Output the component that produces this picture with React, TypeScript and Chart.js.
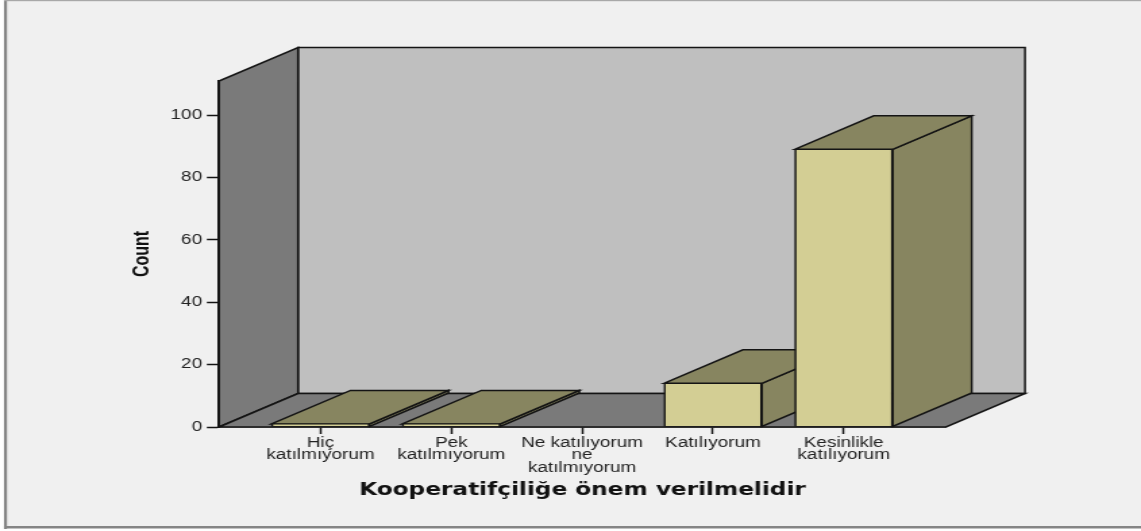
import React, { useEffect, useRef } from "react";
import { Chart, registerables } from "chart.js";

Chart.register(...registerables);

const categories = [
  ["Hiç", "katılmıyorum"],
  ["Pek", "katılmıyorum"],
  ["Ne katılıyorum", "ne", "katılmıyorum"],
  ["Katılıyorum"],
  ["Kesinlikle", "katılıyorum"],
];
const positions = [1, 2, 3, 4, 5];
const counts = [1, 1, 0, 14, 89];
const yTicks = [0, 20, 40, 60, 80, 100];
const xTitle = "Kooperatifçiliğe önem verilmelidir";
const yTitle = "Count";

const SX = 1141 / 845;
const CW = 845;
const CH = 531;
const px = (v: number) => v / SX;
const DX = px(79);
const DY = 33.5;
const LINE = "#141414";

const poly = (ctx: CanvasRenderingContext2D, pts: number[][], fill: string) => {
  ctx.beginPath();
  pts.forEach((p, i) => (i ? ctx.lineTo(p[0], p[1]) : ctx.moveTo(p[0], p[1])));
  ctx.closePath();
  ctx.fillStyle = fill;
  ctx.fill();
  ctx.strokeStyle = LINE;
  ctx.lineWidth = 1.5;
  ctx.stroke();
};

const scene = {
  id: "scene",
  beforeDraw(chart: any) {
    const ctx = chart.ctx;
    ctx.save();
    ctx.fillStyle = "#ffffff";
    ctx.fillRect(0, 0, CW, CH);
    ctx.fillStyle = "#f0f0f0";
    ctx.fillRect(px(5), 0, CW, 527);
    ctx.fillStyle = "#858585";
    ctx.fillRect(px(4), 0, px(3), 529);
    ctx.fillRect(px(4), 526, CW, 2.5);
    ctx.fillStyle = "#a8a8a8";
    ctx.fillRect(px(4), 0, CW, 1.2);
    ctx.restore();
  },
  beforeDatasetsDraw(chart: any) {
    const ctx = chart.ctx;
    const { left, right, top, bottom } = chart.chartArea;
    ctx.save();
    poly(ctx, [[left + DX, top - DY], [right + DX, top - DY], [right + DX, bottom - DY], [left + DX, bottom - DY]], "#bfbfbf");
    poly(ctx, [[left, bottom], [left, top], [left + DX, top - DY], [left + DX, bottom - DY]], "#7a7a7a");
    poly(ctx, [[left, bottom], [left + DX, bottom - DY], [right + DX, bottom - DY], [right, bottom]], "#7a7a7a");
    const meta = chart.getDatasetMeta(0);
    meta.data.forEach((bar: any, i: number) => {
      if (!counts[i]) return;
      const l = bar.x - bar.width / 2;
      const r = bar.x + bar.width / 2;
      poly(ctx, [[r, bar.base], [r, bar.y], [r + DX, bar.y - DY], [r + DX, bar.base - DY]], "#878560");
      poly(ctx, [[l, bar.y], [l + DX, bar.y - DY], [r + DX, bar.y - DY], [r, bar.y]], "#878560");
    });
    ctx.restore();
  },
};

export default function App() {
  const ref = useRef<HTMLCanvasElement>(null);
  useEffect(() => {
    document.body.style.margin = "0";
    document.body.style.background = "#ffffff";
    const chart = new Chart(ref.current as HTMLCanvasElement, {
      type: "bar",
      data: {
        datasets: [
          {
            data: positions.map((x, i) => ({ x, y: counts[i] })),
            backgroundColor: "#d3ce94",
            borderColor: LINE,
            borderWidth: { top: 1, bottom: 0.8, left: 1.6, right: 1.6 },
            borderSkipped: false,
            barThickness: px(98),
          },
        ],
      },
      options: {
        animation: false,
        responsive: false,
        devicePixelRatio: 1,
        layout: { padding: { left: px(125), right: CW - px(946), top: 81, bottom: 30 } },
        plugins: { legend: { display: false }, tooltip: { enabled: false } },
        scales: {
          x: {
            type: "linear",
            offset: false,
            min: 1 - (320.5 - 219) / 130.8,
            max: 5 + (946 - 843.7) / 130.8,
            afterBuildTicks: (s: any) => {
              s.ticks = positions.map((value) => ({ value }));
            },
            afterFit: (s: any) => {
              s.height = 531 - 427 - 30;
            },
            ticks: {
              callback: (v: any) => categories[Number(v) - 1],
              autoSkip: false,
              maxRotation: 0,
              minRotation: 0,
              padding: 3,
              color: "#222222",
              font: { family: "'Liberation Sans'", size: 14, lineHeight: 0.88 },
            },
            grid: { offset: false, drawOnChartArea: false, drawTicks: true, tickLength: 7, tickColor: LINE, tickWidth: 1.5 },
            border: { color: LINE, width: 1.5 },
            title: {
              display: true,
              text: xTitle,
              color: "#111111",
              padding: 0,
              font: { family: "'DejaVu Sans'", size: 17.2, weight: "bold" },
            },
          },
          y: {
            type: "linear",
            min: 0,
            max: 110.9,
            afterBuildTicks: (s: any) => {
              s.ticks = yTicks.map((value) => ({ value }));
            },
            afterFit: (s: any) => {
              s.width = px(219 - 125);
            },
            ticks: {
              padding: 3.5,
              color: "#222222",
              font: { family: "'Liberation Sans'", size: 14 },
            },
            grid: { drawOnChartArea: false, drawTicks: true, tickLength: 9, tickColor: LINE, tickWidth: 1.5 },
            border: { color: LINE, width: 1.5 },
            title: {
              display: true,
              text: yTitle,
              color: "#111111",
              padding: { top: 3, bottom: 0 },
              font: { family: "'Liberation Sans'", size: 16, weight: "bold" },
            },
          },
        },
      },
      plugins: [scene],
    } as any);
    return () => chart.destroy();
  }, []);
  return (
    <canvas
      ref={ref}
      width={CW}
      height={CH}
      style={{ display: "block", width: "1141px", height: "531px", filter: "blur(0.35px)" }}
    />
  );
}
